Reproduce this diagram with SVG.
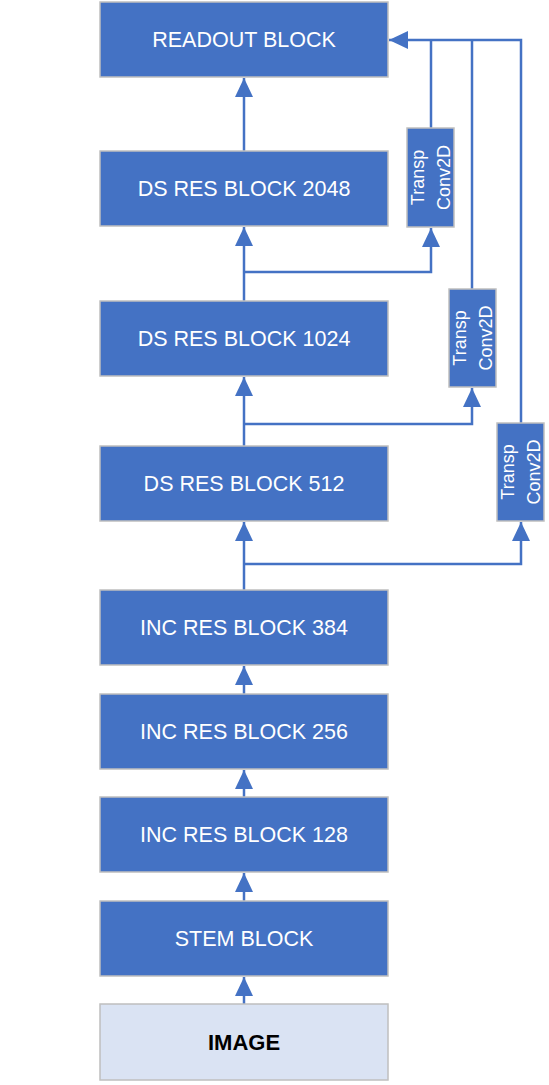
<svg xmlns="http://www.w3.org/2000/svg" width="549" height="1085" viewBox="0 0 549 1085">
<style>
.box{fill:#4472C4;stroke:#BFBFBF;stroke-width:1.5}
.img{fill:#DAE3F3;stroke:#BFBFBF;stroke-width:1.5}
.lbl{font-family:"Liberation Sans",Arial,sans-serif;font-size:21.5px;fill:#FFFFFF;text-anchor:middle}
.imgl{font-family:"Liberation Sans",Arial,sans-serif;font-size:22px;font-weight:bold;fill:#000000;text-anchor:middle}
.tl{font-family:"Liberation Sans",Arial,sans-serif;font-size:18px;fill:#FFFFFF;text-anchor:middle}
.c{fill:none;stroke:#4472C4;stroke-width:2.5}
</style>
<defs>
<marker id="ah" markerUnits="userSpaceOnUse" markerWidth="19" markerHeight="18" viewBox="0 0 19 18" refX="19" refY="9" orient="auto">
<path d="M0,0 L19,9 L0,18 z" fill="#4472C4"/>
</marker>
</defs>
<g id="connectors">
<path class="c" d="M244,1004 V977" marker-end="url(#ah)"/>
<path class="c" d="M244,901 V873" marker-end="url(#ah)"/>
<path class="c" d="M244,797 V770" marker-end="url(#ah)"/>
<path class="c" d="M244,694 V666" marker-end="url(#ah)"/>
<path class="c" d="M244,590 V522" marker-end="url(#ah)"/>
<path class="c" d="M244,446 V377" marker-end="url(#ah)"/>
<path class="c" d="M244,301 V227" marker-end="url(#ah)"/>
<path class="c" d="M244,151 V78" marker-end="url(#ah)"/>
<path class="c" d="M244,272 H431 V228" marker-end="url(#ah)"/>
<path class="c" d="M244,424 H472 V388" marker-end="url(#ah)"/>
<path class="c" d="M244,564 H521 V522" marker-end="url(#ah)"/>
<path class="c" d="M521,423 V40 H389" marker-end="url(#ah)"/>
<path class="c" d="M472,289 V40"/>
<path class="c" d="M431,128 V40"/>
</g>
<g id="readout"><rect class="box" x="100" y="2" width="288" height="75"/><text class="lbl" x="244" y="47">READOUT BLOCK</text></g>
<g id="ds2048"><rect class="box" x="100" y="151" width="288" height="75"/><text class="lbl" x="244" y="196">DS RES BLOCK 2048</text></g>
<g id="ds1024"><rect class="box" x="100" y="301" width="288" height="75"/><text class="lbl" x="244" y="346">DS RES BLOCK 1024</text></g>
<g id="ds512"><rect class="box" x="100" y="446" width="288" height="75"/><text class="lbl" x="244" y="491">DS RES BLOCK 512</text></g>
<g id="inc384"><rect class="box" x="100" y="590" width="288" height="75"/><text class="lbl" x="244" y="635">INC RES BLOCK 384</text></g>
<g id="inc256"><rect class="box" x="100" y="694" width="288" height="75"/><text class="lbl" x="244" y="739">INC RES BLOCK 256</text></g>
<g id="inc128"><rect class="box" x="100" y="797" width="288" height="75"/><text class="lbl" x="244" y="842">INC RES BLOCK 128</text></g>
<g id="stem"><rect class="box" x="100" y="901" width="288" height="75"/><text class="lbl" x="244" y="946">STEM BLOCK</text></g>
<g id="image"><rect class="img" x="100" y="1004" width="288" height="76"/><text class="imgl" x="244" y="1050">IMAGE</text></g>
<g id="tconv1"><rect class="box" x="407" y="128" width="47" height="99"/><text class="tl" transform="translate(424,177.5) rotate(-90)">Transp</text><text class="tl" transform="translate(450,177.5) rotate(-90)">Conv2D</text></g>
<g id="tconv2"><rect class="box" x="449" y="289" width="47" height="98"/><text class="tl" transform="translate(466,338) rotate(-90)">Transp</text><text class="tl" transform="translate(492,338) rotate(-90)">Conv2D</text></g>
<g id="tconv3"><rect class="box" x="497" y="423" width="47" height="98"/><text class="tl" transform="translate(514,472) rotate(-90)">Transp</text><text class="tl" transform="translate(540,472) rotate(-90)">Conv2D</text></g>
</svg>
